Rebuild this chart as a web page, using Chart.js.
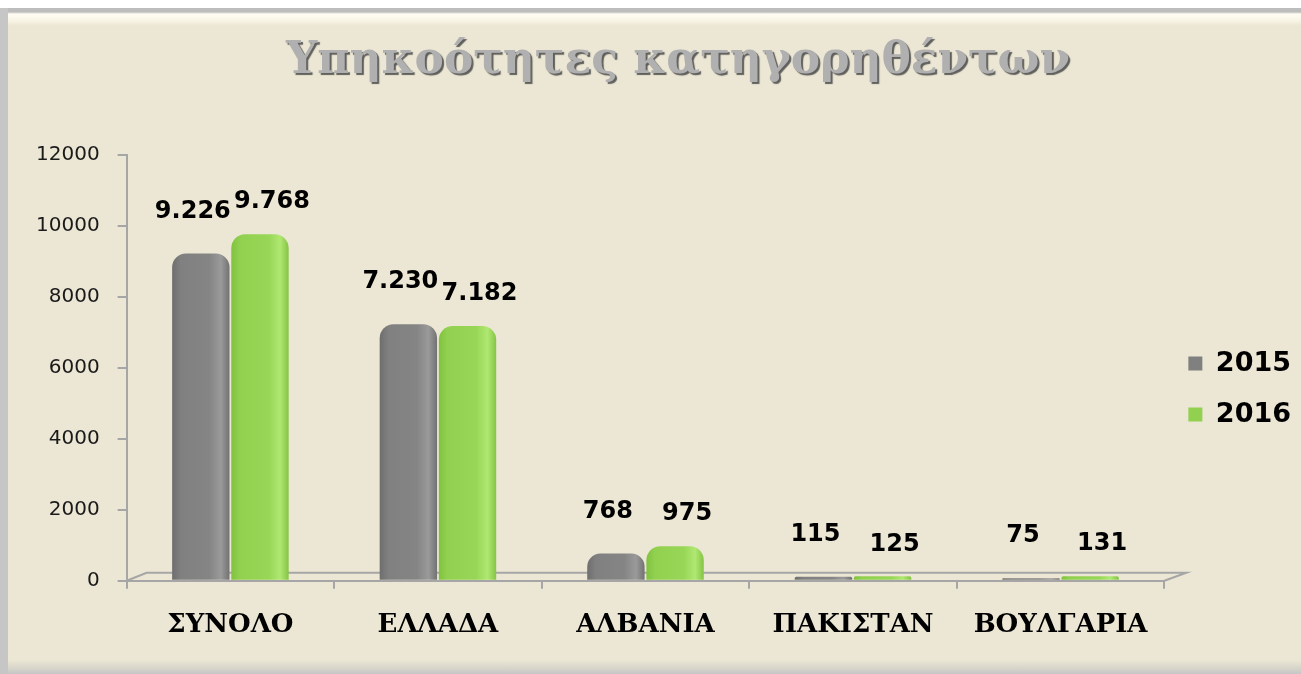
<!DOCTYPE html>
<html>
<head>
<meta charset="utf-8">
<script src="https://cdn.jsdelivr.net/npm/chart.js@4"></script>
<style>
    html, body { margin: 0; background: #ffffff; width: 1301px; height: 674px; overflow: hidden; }
    .frame {
        position: absolute; left: 0; top: 8px; width: 1301px; height: 666px;
        box-sizing: border-box;
        border-left: 8px solid #c6c6c6;
        background: linear-gradient(to bottom, #bdbdbd 0px, #bdbdbd 4px, #fffdf3 6px, #f7f3e4 13px,
            #ece7d4 18px, #ece7d4 652px, #d8d5ca 660px, #c6c6c6 666px);
    }
    #wrap { position: absolute; left: 0; top: 0; width: 1301px; height: 674px; }
</style>
</head>
<body>
<div class="frame"></div>
<div id="wrap"><canvas id="ypChart"></canvas></div>
<script>
// Υπηκοότητες κατηγορηθέντων
const titulo = 'Υπηκοότητες κατηγορηθέντων';
const paises = ['ΣΥΝΟΛΟ', 'ΕΛΛΑΔΑ', 'ΑΛΒΑΝΙΑ', 'ΠΑΚΙΣΤΑΝ', 'ΒΟΥΛΓΑΡΙΑ'];
const valores2015 = [9226, 7230, 768, 115, 75];
const valores2016 = [9768, 7182, 975, 125, 131];
const ejeY = [0, 2000, 4000, 6000, 8000, 10000, 12000];

// colores de cada serie (para el efecto cilindro)
const colores = ['#808080', '#92d050'];
const tonos = [
    ['#6e6e6e', '#808080', '#858585', '#9a9a9a', '#727272'],
    ['#80c240', '#92d050', '#97d656', '#b0e872', '#84c444']
];

// formato con punto de miles (9.226)
function formato(v) {
    return String(v).replace(/\B(?=(\d{3})+(?!\d))/g, '.');
}

// Título con sombra
const tituloPlugin = {
    id: 'tituloSombra',
    afterDraw(chart) {
        const c = chart.ctx;
        c.save();
        c.font = 'bold 44px "DejaVu Serif"';
        c.textAlign = 'center';
        c.textBaseline = 'middle';
        c.shadowColor = 'rgba(70,70,70,0.85)';
        c.shadowOffsetX = 2;
        c.shadowOffsetY = 2;
        c.shadowBlur = 1;
        c.fillStyle = '#b0b0b0';
        c.fillText(titulo, 678, 62);
        c.restore();
    }
};

// Suelo "3D" y degradado horizontal en cada barra
const cilindroPlugin = {
    id: 'cilindro',
    beforeDatasetsDraw(chart) {
        const c = chart.ctx;
        const a = chart.chartArea;
        c.save();
        c.strokeStyle = '#a6a6a6';
        c.lineWidth = 2;
        c.beginPath();
        c.moveTo(a.left, a.bottom);
        c.lineTo(a.left + 20, a.bottom - 8);
        c.lineTo(a.right + 22, a.bottom - 8);
        c.lineTo(a.right, a.bottom);
        c.stroke();
        c.restore();

        chart.data.datasets.forEach((ds, i) => {
            chart.getDatasetMeta(i).data.forEach((bar) => {
                const x0 = bar.x - bar.width / 2;
                const g = c.createLinearGradient(x0, 0, x0 + bar.width, 0);
                const t = tonos[i];
                g.addColorStop(0, t[0]);
                g.addColorStop(0.15, t[1]);
                g.addColorStop(0.65, t[2]);
                g.addColorStop(0.85, t[3]);
                g.addColorStop(1, t[4]);
                bar.options = Object.assign({}, bar.options, { backgroundColor: g });
            });
        });
    }
};

// Etiquetas de valores encima de las barras
const desplazaX = [-8, 12];
const desplazaY = [-42, -32];
const etiquetasPlugin = {
    id: 'etiquetas',
    afterDatasetsDraw(chart) {
        const c = chart.ctx;
        c.save();
        c.font = 'bold 24px "DejaVu Sans"';
        c.fillStyle = '#000';
        c.textAlign = 'center';
        c.textBaseline = 'middle';
        chart.data.datasets.forEach((ds, i) => {
            chart.getDatasetMeta(i).data.forEach((bar, j) => {
                c.fillText(formato(ds.data[j]), bar.x + desplazaX[i], bar.y + desplazaY[i]);
            });
        });
        c.restore();
    }
};

const ctx = document.getElementById('ypChart').getContext('2d');
const ypChart = new Chart(ctx, {
    type: 'bar',
    data: {
        labels: paises,
        datasets: [{
            label: '2015',
            data: valores2015,
            backgroundColor: colores[0],
            borderRadius: { topLeft: 14, topRight: 14, bottomLeft: 0, bottomRight: 0 },
            borderSkipped: false
        }, {
            label: '2016',
            data: valores2016,
            backgroundColor: colores[1],
            borderRadius: { topLeft: 14, topRight: 14, bottomLeft: 0, bottomRight: 0 },
            borderSkipped: false
        }]
    },
    options: {
        responsive: true,
        maintainAspectRatio: false,
        animation: false,
        categoryPercentage: 0.57,
        barPercentage: 0.97,
        layout: { padding: { left: 18, top: 155, bottom: 12, right: 0 } },
        plugins: {
            title: { display: false },
            tooltip: { enabled: false },
            legend: {
                position: 'right',
                fullSize: false,
                title: { display: true, text: '', font: { size: 12 }, padding: { top: 28, bottom: 0 } },
                labels: {
                    font: { family: 'DejaVu Sans', size: 27, weight: 'bold' },
                    color: '#000',
                    boxWidth: 14,
                    boxHeight: 14,
                    padding: 24
                }
            }
        },
        scales: {
            x: {
                grid: { offset: true, drawOnChartArea: false, tickLength: 8, color: '#a6a6a6', lineWidth: 2 },
                border: { color: '#a6a6a6', width: 2 },
                ticks: {
                    font: { family: 'DejaVu Serif', size: 26, weight: 'bold' },
                    color: '#000',
                    padding: 21
                }
            },
            y: {
                min: 0,
                max: 12000,
                afterBuildTicks: (axis) => { axis.ticks = ejeY.map(v => ({ value: v })); },
                grid: { drawOnChartArea: false, tickLength: 9, color: '#a6a6a6', lineWidth: 2 },
                border: { color: '#a6a6a6', width: 2 },
                ticks: {
                    font: { family: 'DejaVu Sans', size: 20 },
                    color: '#1a1a1a',
                    padding: 18,
                    callback: (v) => String(v)
                }
            }
        }
    },
    plugins: [tituloPlugin, cilindroPlugin, etiquetasPlugin]
});
</script>
</body>
</html>
